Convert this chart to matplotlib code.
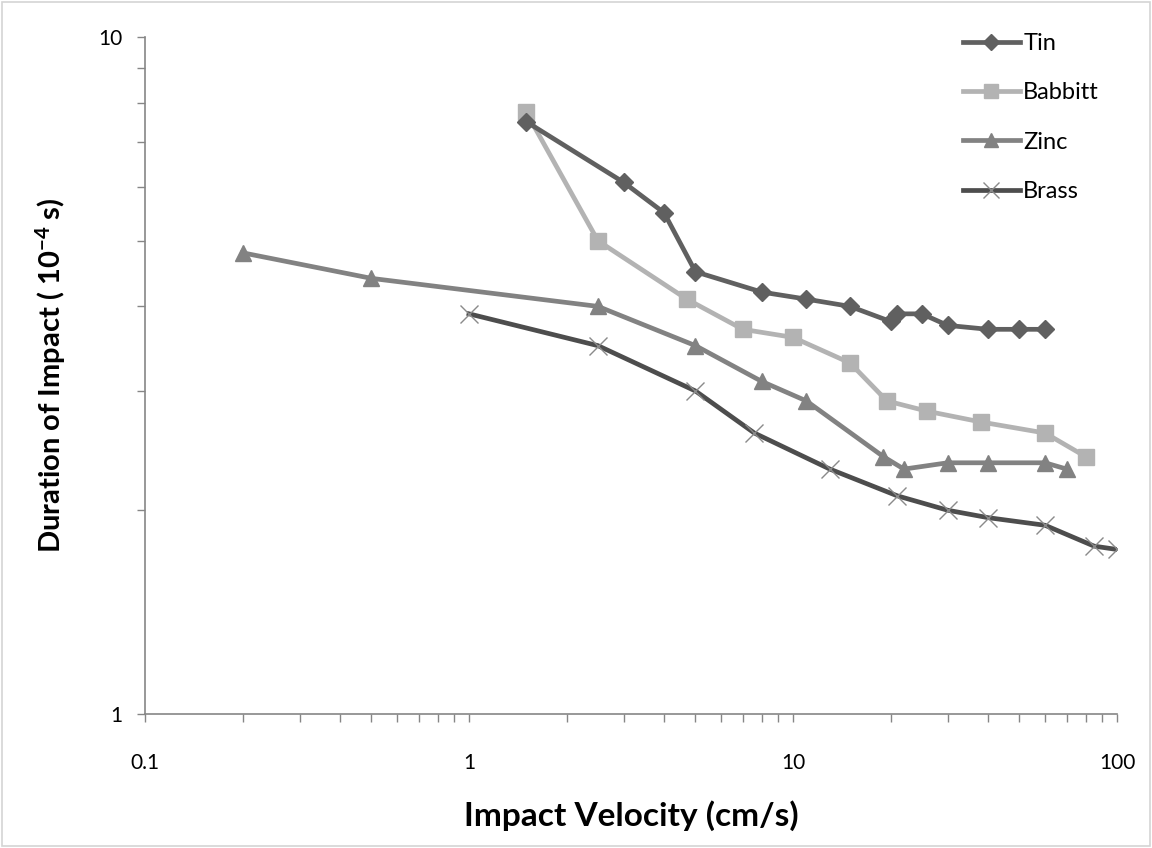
import numpy as np
import matplotlib.pyplot as plt
from matplotlib.ticker import LogLocator, NullFormatter, FixedLocator, FixedFormatter

plt.rcParams['font.family'] = ['Lato', 'DejaVu Sans']
plt.rcParams['mathtext.default'] = 'regular'

# Impact velocity (cm/s) and duration of impact (1e-4 s) per metal
tin_v = [1.5, 3.0, 4.0, 5.0, 8.0, 11.0, 15.0, 20.0, 21.0, 25.0, 30.0, 40.0, 50.0, 60.0]
tin_d = [7.5, 6.1, 5.5, 4.5, 4.2, 4.1, 4.0, 3.8, 3.9, 3.9, 3.75, 3.7, 3.7, 3.7]

babbitt_v = [1.5, 2.5, 4.7, 7.0, 10.0, 15.0, 19.5, 26.0, 38.0, 60.0, 80.0]
babbitt_d = [7.75, 5.0, 4.1, 3.7, 3.6, 3.3, 2.9, 2.8, 2.7, 2.6, 2.4]

zinc_v = [0.2, 0.5, 2.5, 5.0, 8.0, 11.0, 19.0, 22.0, 30.0, 40.0, 60.0, 70.0]
zinc_d = [4.8, 4.4, 4.0, 3.5, 3.1, 2.9, 2.4, 2.3, 2.35, 2.35, 2.35, 2.3]

brass_v = [1.0, 2.5, 5.0, 7.6, 13.0, 21.0, 30.0, 40.0, 60.0, 85.0, 100.0]
brass_d = [3.9, 3.5, 3.0, 2.6, 2.3, 2.1, 2.0, 1.95, 1.9, 1.77, 1.75]

fig = plt.figure(figsize=(11.52, 8.48), dpi=100)
ax = fig.add_axes([0.1259, 0.158, 0.8437, 0.7984])

# thin border round the whole figure
fig.patches.append(plt.Rectangle((0.002, 0.002), 0.996, 0.996, transform=fig.transFigure,
                                 fill=False, edgecolor='#d4d4d4', linewidth=1.2))

ax.plot(tin_v, tin_d, color='#606060', linewidth=3.4, marker='D', markersize=9,
        label='Tin', zorder=5)
ax.plot(babbitt_v, babbitt_d, color='#b3b3b3', linewidth=3.4, marker='s', markersize=12,
        label='Babbitt', zorder=4)
ax.plot(zinc_v, zinc_d, color='#828282', linewidth=3.4, marker='^', markersize=12,
        label='Zinc', zorder=3)
ax.plot(brass_v, brass_d, color='#4d4d4d', linewidth=3.4, marker='x', markersize=13,
        markeredgecolor='#8a8a8a', markeredgewidth=1.0, label='Brass', zorder=2)

ax.set_xscale('log')
ax.set_yscale('log')
ax.set_xlim(0.1, 100)
ax.set_ylim(1, 10)

ax.xaxis.set_major_locator(FixedLocator([0.1, 1, 10, 100]))
ax.xaxis.set_major_formatter(FixedFormatter(['0.1', '1', '10', '100']))
ax.xaxis.set_minor_locator(LogLocator(base=10, subs=np.arange(2, 10)))
ax.xaxis.set_minor_formatter(NullFormatter())
ax.yaxis.set_major_locator(FixedLocator([1, 10]))
ax.yaxis.set_major_formatter(FixedFormatter(['1', '10']))
ax.yaxis.set_minor_locator(LogLocator(base=10, subs=np.arange(2, 10)))
ax.yaxis.set_minor_formatter(NullFormatter())

for side in ['top', 'right']:
    ax.spines[side].set_visible(False)
for side in ['left', 'bottom']:
    ax.spines[side].set_color('#868686')
    ax.spines[side].set_linewidth(1.2)

ax.tick_params(axis='both', which='both', direction='out', length=6, width=1.0,
               color='#868686', labelsize=15)
ax.tick_params(axis='x', which='major', pad=22)
ax.tick_params(axis='y', which='major', pad=10)

ax.set_xlabel('Impact Velocity (cm/s)', fontsize=24, fontweight='bold', labelpad=20)
ax.set_ylabel('Duration of Impact ( 10$^{-4}$ s)', fontsize=21, fontweight='bold', labelpad=22)

fig.legend(*ax.get_legend_handles_labels(), loc='upper left',
           bbox_to_anchor=(963 / 1152, 1 - 33 / 848), bbox_transform=fig.transFigure,
           frameon=False, fontsize=17, borderpad=0, borderaxespad=0,
           handlelength=2.4, handletextpad=0.15, labelspacing=1.2, markerscale=0.85)

plt.savefig('out.png', dpi=100)
